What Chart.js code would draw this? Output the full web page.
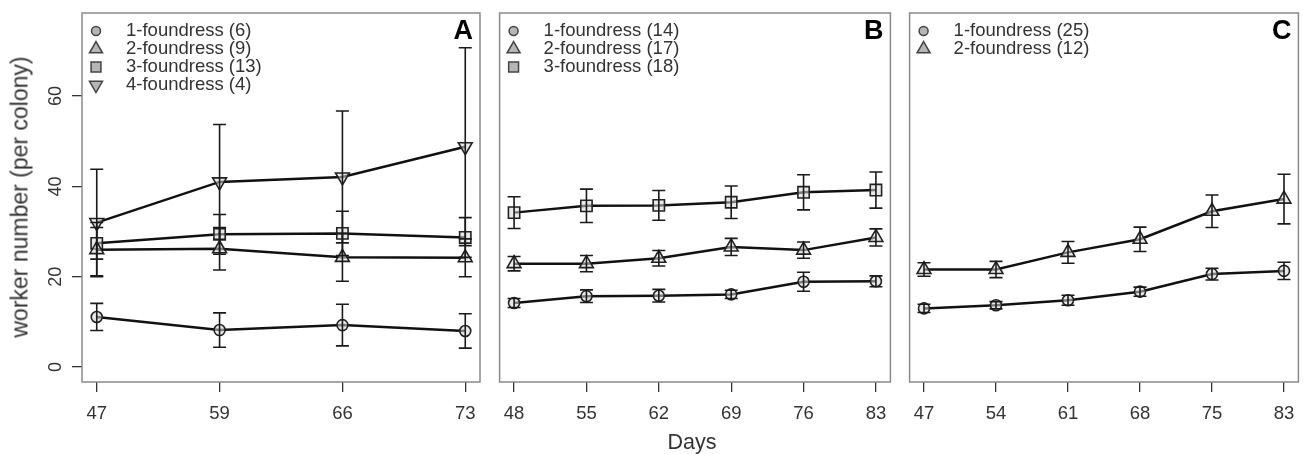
<!DOCTYPE html>
<html>
<head>
<meta charset="utf-8">
<script src="https://cdn.jsdelivr.net/npm/chart.js@4.4.0/dist/chart.umd.min.js"></script>
<style>
  body { margin: 0; background: #fff; }
  #wrap { position: relative; width: 1308px; height: 454px; font-family: 'Liberation Sans', Arial, sans-serif; color: #333; }
  canvas { position: absolute; top: 0; }
  .lab { position: absolute; white-space: nowrap; font-size: 21.5px; transform: translate(-50%, -50%); }
  #ytitle { left: 20px; top: 197px; font-size: 23px; transform: translate(-50%, -50%) rotate(-90deg); }
  #xtitle { left: 692px; top: 442px; }
</style>
</head>
<body>
<div id="wrap">
  <canvas id="chartA" width="490" height="454" style="left:0"></canvas>
  <canvas id="chartB" width="410" height="454" style="left:490px"></canvas>
  <canvas id="chartC" width="408" height="454" style="left:900px"></canvas>
  <div class="lab" id="ytitle">worker number (per colony)</div>
  <div class="lab" id="xtitle">Days</div>
</div>
<script>
// days sampled in each panel
const daysA = [47, 59, 66, 73];
const daysB = [48, 55, 62, 69, 76, 83];
const daysC = [47, 54, 61, 68, 75, 83];
const yTicks = [0, 20, 40, 60];

// panel A: mean workers and error (+/-)
const a1 = [11.1, 8.2, 9.3, 8.0];
const a1Err = [3.0, 3.8, 4.6, 3.8];
const a2 = [26.0, 26.2, 24.3, 24.2];
const a2Err = [6.0, 4.7, 5.3, 4.2];
const a3 = [27.4, 29.4, 29.6, 28.7];
const a3Err = [3.5, 4.4, 4.9, 4.4];
const a4 = [32.0, 41.0, 42.1, 48.8];
const a4Err = [11.8, 12.7, 14.6, 21.9];

// panel B
const b1 = [14.2, 15.7, 15.8, 16.1, 18.9, 19.0];
const b1Err = [1.0, 1.4, 1.4, 0.9, 2.1, 1.2];
const b2 = [22.9, 22.9, 24.1, 26.6, 25.9, 28.7];
const b2Err = [1.6, 1.8, 1.7, 1.9, 1.8, 1.9];
const b3 = [34.2, 35.7, 35.8, 36.5, 38.7, 39.2];
const b3Err = [3.5, 3.7, 3.3, 3.6, 3.9, 4.0];

// panel C
const c1 = [13.0, 13.7, 14.8, 16.7, 20.6, 21.3];
const c1Err = [0.9, 0.8, 1.1, 1.0, 1.3, 1.9];
const c2 = [21.6, 21.6, 25.4, 28.3, 34.5, 37.2];
const c2Err = [1.5, 1.8, 2.4, 2.7, 3.6, 5.5];

const legendA = ['1-foundress (6)', '2-foundress (9)', '3-foundress (13)', '4-foundress (4)'];
const legendB = ['1-foundress (14)', '2-foundress (17)', '3-foundress (18)'];
const legendC = ['1-foundress (25)', '2-foundress (12)'];

const FONT = "'Liberation Sans', Arial, sans-serif";
const TEXT = '#333';

// marker shapes by foundress count
const shapes = [
  { pointStyle: 'circle', rotation: 0, radius: 5.5, legendRadius: 4.5 },
  { pointStyle: 'triangle', rotation: 0, radius: 8, legendRadius: 7.5 },
  { pointStyle: 'rect', rotation: 0, radius: 8, legendRadius: 7 },
  { pointStyle: 'triangle', rotation: 180, radius: 8, legendRadius: 7.5 }
];

const errorBars = {
  id: 'errorBars',
  afterDatasetsDraw(chart) {
    const ctx = chart.ctx;
    const x = chart.scales.x, y = chart.scales.y;
    ctx.save();
    ctx.strokeStyle = '#1a1a1a';
    ctx.lineWidth = 1.6;
    chart.data.datasets.forEach(ds => {
      ds.data.forEach((p, i) => {
        const e = ds.err[i];
        const px = x.getPixelForValue(p.x);
        const top = y.getPixelForValue(p.y + e);
        const bot = y.getPixelForValue(p.y - e);
        ctx.beginPath();
        ctx.moveTo(px, top); ctx.lineTo(px, bot);
        ctx.moveTo(px - 6.5, top); ctx.lineTo(px + 6.5, top);
        ctx.moveTo(px - 6.5, bot); ctx.lineTo(px + 6.5, bot);
        ctx.stroke();
      });
    });
    ctx.restore();
  }
};

const panelDecor = {
  id: 'panelDecor',
  afterDraw(chart, args, opts) {
    const ctx = chart.ctx;
    const a = chart.chartArea;
    ctx.save();
    // box
    ctx.strokeStyle = '#8a8a8a';
    ctx.lineWidth = 1.5;
    ctx.strokeRect(a.left, a.top, a.right - a.left, a.bottom - a.top);
    // legend
    ctx.font = '18.5px ' + FONT;
    ctx.textBaseline = 'middle';
    opts.labels.forEach((txt, i) => {
      const s = shapes[i];
      const yy = a.top + 18 + i * 18;
      ctx.fillStyle = '#b5b5b5';
      ctx.strokeStyle = '#444';
      Chart.helpers.drawPoint(ctx, { pointStyle: s.pointStyle, rotation: s.rotation, radius: s.legendRadius, borderWidth: 1.2 }, a.left + opts.symX, yy);
      ctx.fillStyle = TEXT;
      ctx.textAlign = 'left';
      ctx.fillText(txt, a.left + opts.textX, yy);
    });
    // panel letter
    ctx.font = 'bold 27px ' + FONT;
    ctx.fillStyle = '#000';
    ctx.textAlign = 'right';
    ctx.fillText(opts.letter, a.right - 7, a.top + 19);
    // rotated y tick labels (panel A only)
    if (opts.yLabels) {
      ctx.font = '18px ' + FONT;
      ctx.fillStyle = TEXT;
      ctx.textAlign = 'center';
      yTicks.forEach(v => {
        const py = chart.scales.y.getPixelForValue(v);
        ctx.save();
        ctx.translate(56, py);
        ctx.rotate(-Math.PI / 2);
        ctx.fillText(String(v), 0, 0);
        ctx.restore();
      });
    }
    ctx.restore();
  }
};

function makePanel(id, days, series, errs, labels, letter, leftW, rightPad, showY) {
  const pad = (days.length - 1) * 0.04;
  const datasets = series.map((vals, k) => ({
    data: vals.map((v, i) => ({ x: i, y: v })),
    err: errs[k],
    borderColor: '#111',
    borderWidth: 2.5,
    pointStyle: shapes[k].pointStyle,
    pointRotation: shapes[k].rotation,
    pointRadius: shapes[k].radius,
    pointBackgroundColor: 'rgba(215,215,215,0.55)',
    pointBorderColor: '#222',
    pointBorderWidth: 1.6,
    fill: false,
    tension: 0
  }));
  return new Chart(document.getElementById(id), {
    type: 'line',
    data: { datasets: datasets },
    options: {
      responsive: false,
      animation: false,
      layout: { padding: { top: 13, right: rightPad, left: 0, bottom: 0 } },
      plugins: {
        legend: { display: false },
        tooltip: { enabled: false },
        panelDecor: { labels: labels, letter: letter, symX: 14, textX: 44, yLabels: showY }
      },
      scales: {
        x: {
          type: 'linear',
          min: -pad,
          max: days.length - 1 + pad,
          afterBuildTicks: s => { s.ticks = days.map((d, i) => ({ value: i })); },
          afterFit: s => { s.height = 72; },
          ticks: { callback: v => days[v], font: { family: FONT, size: 18.5 }, color: TEXT, padding: 11, maxRotation: 0, autoSkip: false },
          grid: { drawOnChartArea: false, drawTicks: true, tickLength: 10, color: '#333', lineWidth: 1.3 },
          border: { display: false }
        },
        y: {
          type: 'linear',
          min: -3.3,
          max: 78.4,
          afterBuildTicks: s => { s.ticks = yTicks.map(v => ({ value: v })); },
          afterFit: s => { s.width = leftW; },
          ticks: { display: false },
          grid: { display: showY, drawOnChartArea: false, drawTicks: true, tickLength: 10, color: '#333', lineWidth: 1.3 },
          border: { display: false }
        }
      }
    },
    plugins: [errorBars, panelDecor]
  });
}

makePanel('chartA', daysA, [a1, a2, a3, a4], [a1Err, a2Err, a3Err, a4Err], legendA, 'A', 82, 10, true);
makePanel('chartB', daysB, [b1, b2, b3], [b1Err, b2Err, b3Err], legendB, 'B', 4, 8, false);
makePanel('chartC', daysC, [c1, c2], [c1Err, c2Err], legendC, 'C', 8, 8, false);
</script>
</body>
</html>
